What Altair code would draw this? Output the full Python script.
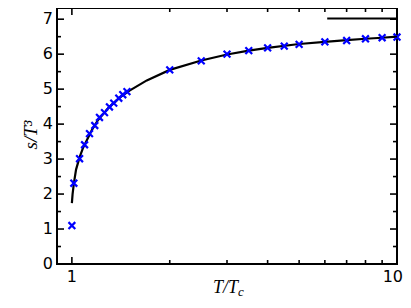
import altair as alt
import pandas as pd

# lattice data points (T/Tc, s/T^3)
pts_x = [1.0, 1.014, 1.056, 1.094, 1.133, 1.176, 1.216, 1.26, 1.305, 1.345, 1.394, 1.434, 1.477,
         2.0, 2.5, 3.0, 3.5, 4.0, 4.5, 5.0, 6.0, 7.0, 8.0, 9.0, 10.0]
pts_y = [1.10, 2.31, 3.01, 3.41, 3.73, 3.96, 4.19, 4.33, 4.49, 4.60, 4.74, 4.84, 4.93,
         5.55, 5.81, 6.00, 6.10, 6.18, 6.23, 6.28, 6.35, 6.39, 6.44, 6.47, 6.49]

# fitted curve
curve_x = [1.0, 1.005, 1.014, 1.03, 1.056, 1.08, 1.1, 1.15, 1.2, 1.3, 1.4, 1.5, 1.7,
           2.0, 2.5, 3.0, 3.5, 4.0, 5.0, 6.0, 7.0, 8.0, 9.0, 10.0]
curve_y = [1.74, 2.0, 2.3, 2.7, 3.05, 3.3, 3.45, 3.82, 4.1, 4.48, 4.75, 4.95, 5.25,
           5.55, 5.82, 5.99, 6.1, 6.18, 6.29, 6.35, 6.4, 6.44, 6.47, 6.5]

# Stefan-Boltzmann limit segment
limit_x = [6.1, 10.0]
limit_y = [7.02, 7.02]

# tick positions and labels
x_major = [1, 10]
x_labels = ["1", "10"]
x_minor = [2, 3, 4, 5, 6, 7, 8, 9]
y_major = [0, 1, 2, 3, 4, 5, 6, 7]
y_labels = ["0", "1", "2", "3", "4", "5", "6", "7"]
y_minor = [0.5, 1.5, 2.5, 3.5, 4.5, 5.5, 6.5]

W, H = 340, 256
xscale = alt.Scale(type="log", domain=[0.9, 10], nice=False)
yscale = alt.Scale(domain=[0, 7.32], nice=False)


def X(f):
    return alt.X(f, type="quantitative", scale=xscale, axis=None)


def Y(f):
    return alt.Y(f, type="quantitative", scale=yscale, axis=None)


pts = pd.DataFrame({"x": pts_x, "y": pts_y})
crv = pd.DataFrame({"x": curve_x, "y": curve_y})
lim = pd.DataFrame({"x": limit_x, "y": limit_y})

curve = alt.Chart(crv).mark_line(color="black", strokeWidth=2.2).encode(x=X("x"), y=Y("y"))
limit = alt.Chart(lim).mark_line(color="black", strokeWidth=2).encode(x=X("x"), y=Y("y"))
points = alt.Chart(pts).mark_point(
    shape="M-1,-1L1,1M-1,1L1,-1", filled=False, color="#0000ff", strokeWidth=2.2, size=46, opacity=1
).encode(x=X("x"), y=Y("y"))

layers = [curve, limit, points]


def yticks(vals, length):
    d = pd.DataFrame({"v": vals})
    left = alt.Chart(d).mark_rule(color="black", strokeWidth=1.6).encode(
        y=Y("v"), x=alt.value(0), x2=alt.value(length))
    right = alt.Chart(d).mark_rule(color="black", strokeWidth=1.6).encode(
        y=Y("v"), x=alt.value(W - length), x2=alt.value(W))
    return [left, right]


def xticks(vals, length):
    d = pd.DataFrame({"v": vals})
    bot = alt.Chart(d).mark_rule(color="black", strokeWidth=1.6).encode(
        x=X("v"), y=alt.value(H - length), y2=alt.value(H))
    top = alt.Chart(d).mark_rule(color="black", strokeWidth=1.6).encode(
        x=X("v"), y=alt.value(0), y2=alt.value(length))
    return [bot, top]


layers += yticks(y_major, 7) + yticks(y_minor, 4) + xticks(x_major, 7) + xticks(x_minor, 4)

# tick labels
xl_first = pd.DataFrame({"v": x_major[:1], "t": x_labels[:1]})
xl_last = pd.DataFrame({"v": x_major[1:], "t": x_labels[1:]})
yl = pd.DataFrame({"v": y_major, "t": y_labels})
xlab1 = alt.Chart(xl_first).mark_text(
    font="DejaVu Sans", fontSize=16, color="black", align="center", baseline="alphabetic"
).encode(x=X("v"), y=alt.value(H + 18), text="t:N")
xlab2 = alt.Chart(xl_last).mark_text(
    font="DejaVu Sans", fontSize=16, color="black", align="right", baseline="alphabetic", dx=6
).encode(x=X("v"), y=alt.value(H + 18), text="t:N")
ylab = alt.Chart(yl).mark_text(
    font="DejaVu Sans", fontSize=16, color="black", align="right", baseline="middle"
).encode(y=Y("v"), x=alt.value(-4), text="t:N")
layers += [xlab1, xlab2, ylab]

tdf = pd.DataFrame({"a": [0]})
ytitle = alt.Chart(tdf).mark_text(
    text="s/T³", font="Liberation Serif", fontStyle="italic", fontSize=19, angle=270,
    align="center", baseline="alphabetic", color="black"
).encode(x=alt.value(-20), y=alt.value(127))
xtitle1 = alt.Chart(tdf).mark_text(
    text="T/T", font="Liberation Serif", fontStyle="italic", fontSize=18,
    align="right", baseline="alphabetic", color="black"
).encode(x=alt.value(181), y=alt.value(285))
xtitle2 = alt.Chart(tdf).mark_text(
    text="c", font="Liberation Serif", fontStyle="italic", fontSize=13,
    align="left", baseline="alphabetic", color="black"
).encode(x=alt.value(181), y=alt.value(288))
layers += [ytitle, xtitle1, xtitle2]

chart = alt.layer(*layers).properties(
    width=W, height=H,
    autosize=alt.AutoSizeParams(type="none"),
    padding={"left": 49, "top": 0, "right": 6, "bottom": 36},
).configure_view(stroke="black", strokeWidth=2)

chart.save("out.html", embed_options={"renderer": "svg", "actions": False})
